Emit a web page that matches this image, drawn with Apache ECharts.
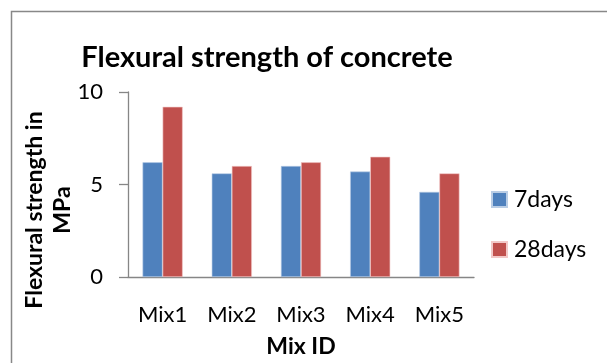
<!DOCTYPE html>
<html>
<head>
<meta charset="utf-8">
<script src="https://cdn.jsdelivr.net/npm/echarts@6/dist/echarts.min.js"></script>
<style>
  html, body { margin: 0; padding: 0; background: #ffffff; }
  #chart { width: 607px; height: 363px; }
</style>
</head>
<body>
<div id="chart"></div>
<script>
// Flexural strength (MPa) per mix at 7 and 28 days of curing
const mixes = ['Mix1', 'Mix2', 'Mix3', 'Mix4', 'Mix5'];
const days7 = [6.2, 5.6, 6.0, 5.7, 4.6];
const days28 = [9.2, 6.0, 6.2, 6.5, 5.6];
const yTicks = [0, 5, 10];

const FONT = 'Lato, "Open Sans", sans-serif';
const chart = echarts.init(document.getElementById('chart'), null, { renderer: 'canvas' });

chart.setOption({
  animation: false,
  backgroundColor: '#ffffff',
  title: {
    text: 'Flexural strength of concrete',
    left: 267,
    top: 43,
    padding: 0,
    textAlign: 'center',
    textStyle: { fontFamily: FONT, fontWeight: 'bold', fontSize: 29, color: '#000000' }
  },
  legend: {
    orient: 'vertical',
    left: 491,
    top: 188,
    padding: 0,
    itemWidth: 15,
    itemHeight: 15,
    itemGap: 27,
    icon: 'rect',
    textStyle: { fontFamily: FONT, fontSize: 23, color: '#000000', padding: [0, 0, 0, 2] },
    data: ['7days', '28days']
  },
  grid: { left: 128, right: 133, top: 92, bottom: 81 },
  xAxis: {
    type: 'category',
    data: mixes,
    name: 'Mix ID',
    nameLocation: 'middle',
    nameGap: 58,
    nameTextStyle: { fontFamily: FONT, fontWeight: 'bold', fontSize: 23, color: '#000000' },
    axisLine: { lineStyle: { color: '#868686', width: 1.3 } },
    axisTick: { alignWithLabel: false, length: 8, lineStyle: { color: '#868686', width: 1.3 } },
    axisLabel: { fontFamily: FONT, fontSize: 22, color: '#000000', margin: 27 }
  },
  yAxis: {
    type: 'value',
    min: yTicks[0],
    max: yTicks[yTicks.length - 1],
    interval: yTicks[1] - yTicks[0],
    axisLine: { show: true, lineStyle: { color: '#868686', width: 1.3 } },
    axisTick: { show: true, length: 9, lineStyle: { color: '#868686', width: 1.3 } },
    splitLine: { show: false },
    axisLabel: { fontFamily: FONT, fontSize: 22, color: '#000000', margin: 25 }
  },
  graphic: [
    {
      type: 'polyline',
      shape: { points: [[11.5, 363], [11.5, 11.5], [607, 11.5]] },
      style: { stroke: '#888888', lineWidth: 1.5, fill: null }
    },
    {
      type: 'text',
      x: 49,
      y: 210,
      rotation: Math.PI / 2,
      style: {
        text: 'Flexural strength in\nMPa',
        fontFamily: FONT,
        fontWeight: 'bold',
        fontSize: 23,
        lineHeight: 28,
        align: 'center',
        verticalAlign: 'middle',
        fill: '#000000'
      }
    }
  ],
  series: [
    {
      name: '7days',
      type: 'bar',
      data: days7,
      barGap: '0%',
      barCategoryGap: '42%',
      itemStyle: { color: '#4F81BD', borderColor: '#B9CDE5', borderWidth: 0.6 }
    },
    {
      name: '28days',
      type: 'bar',
      data: days28,
      itemStyle: { color: '#C0504D', borderColor: '#F2C8C7', borderWidth: 0.6 }
    }
  ]
});
</script>
</body>
</html>
